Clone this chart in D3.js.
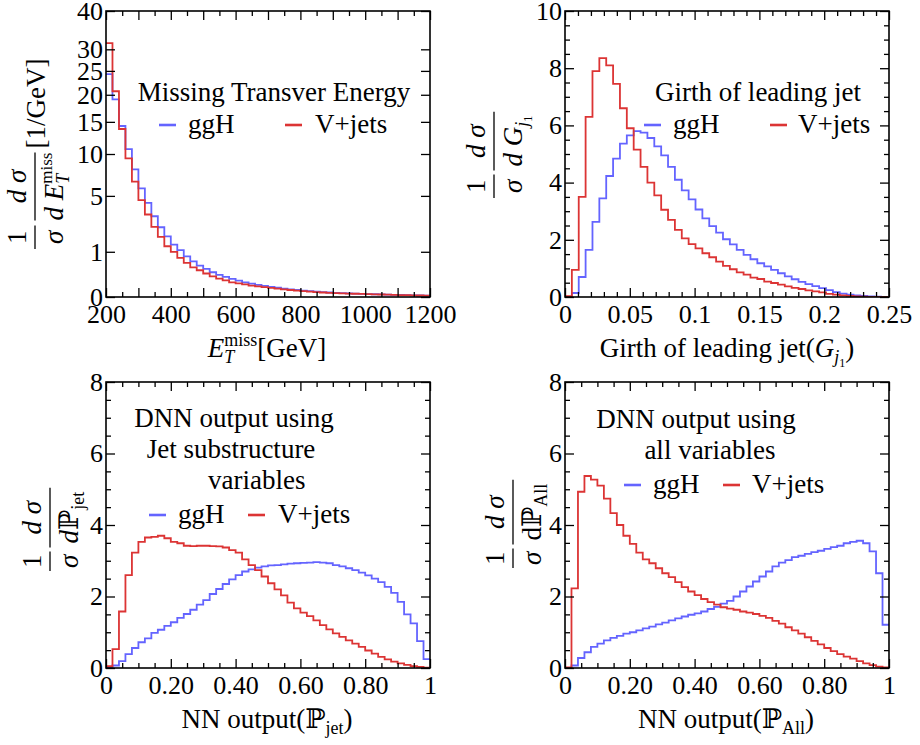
<!DOCTYPE html>
<html><head><meta charset="utf-8">
<script src="https://cdn.jsdelivr.net/npm/d3@7"></script>
<style>
body{margin:0;background:#fff}
svg{display:block}
text{font-family:"Liberation Serif","DejaVu Serif","Times New Roman",serif;fill:#000}
</style>
</head><body>
<svg id="chart" width="920" height="745"></svg>
<script>
// ---------------- DATA ----------------
const seriesNames = ["ggH", "V+jets"];

// Missing transverse energy (bins of 20 GeV starting at 200 GeV)
const metBinStart = 200, metBinWidth = 20;
const metGgH = [24.3,19.1,14.3,10.7,7.96,5.77,4.34,3.19,2.38,1.8,1.34,1.07,0.81,0.62,0.48,0.385,0.3,0.24,0.2,0.16,
  0.13,0.105,0.088,0.073,0.061,0.05,0.042,0.035,0.029,0.024,0.02,0.017,0.014,0.012,0.01,0.0087,0.0076,0.0066,0.0057,0.005,
  0.0043,0.0037,0.0032,0.0027,0.0023,0.002,0.0017,0.0014,0.0011,0.0009];
const metVjets = [31.5,20.7,13.8,9.4,6.5,4.58,3.33,2.41,1.77,1.26,1.0,0.75,0.57,0.43,0.35,0.27,0.21,0.165,0.135,0.105,
  0.09,0.077,0.064,0.055,0.047,0.04,0.034,0.029,0.024,0.02,0.017,0.014,0.012,0.01,0.0085,0.0075,0.0066,0.0058,0.0051,0.0045,
  0.004,0.0035,0.003,0.0026,0.0022,0.0019,0.0016,0.0013,0.0011,0.0009];
const metXTicks = [200,400,600,800,1000,1200];
const metXLabels = ["200","400","600","800","1000","1200"];
const metYTicks = [0,1,5,10,15,20,25,30,40];
const metYLabels = ["0","1","5","10","15","20","25","30","40"];

// Girth of leading jet
const girthBinStart = 0, girthBinWidth = 0.0053;
const girthGgH = [0,0.14,0.7,1.65,2.63,3.45,4.23,4.84,5.36,5.65,5.8,5.75,5.56,5.27,4.95,4.55,4.1,3.73,3.41,3.06,
  2.75,2.48,2.25,2.02,1.84,1.65,1.47,1.32,1.18,1.07,0.95,0.83,0.72,0.62,0.53,0.45,0.38,0.31,0.24,0.17,
  0.12,0.08,0.06,0.04,0.02,0.01,0];
const girthVjets = [0.03,0.95,3.5,6.3,7.9,8.35,8.1,7.45,6.6,5.9,5.15,4.55,4.0,3.55,3.05,2.7,2.35,2.05,1.85,1.7,
  1.53,1.39,1.24,1.09,0.97,0.86,0.78,0.68,0.63,0.54,0.49,0.43,0.37,0.32,0.28,0.23,0.2,0.16,0.11,0.08,
  0.06,0.04,0.02,0.01,0.005,0,0];
const girthXTicks = [0,0.05,0.1,0.15,0.2,0.25];
const girthXLabels = ["0","0.05","0.1","0.15","0.2","0.25"];
const girthYTicks = [0,2,4,6,8,10];
const girthYLabels = ["0","2","4","6","8","10"];

// DNN output, jet substructure variables (bins of 0.02)
const dnnBinStart = 0, dnnBinWidth = 0.02;
const dnnJetGgH = [0,0.07,0.19,0.39,0.56,0.72,0.83,0.98,1.07,1.18,1.28,1.4,1.51,1.63,1.77,1.9,2.07,2.21,2.35,2.48,
  2.6,2.7,2.76,2.81,2.84,2.87,2.88,2.9,2.92,2.93,2.94,2.95,2.96,2.95,2.93,2.88,2.84,2.79,2.74,2.67,
  2.59,2.5,2.4,2.27,2.1,1.85,1.5,1.25,0.75,0.25];
const dnnJetVjets = [0.05,0.53,1.58,2.6,3.23,3.53,3.65,3.67,3.7,3.63,3.53,3.49,3.42,3.41,3.42,3.42,3.41,3.4,3.37,3.3,
  3.23,3.04,2.88,2.74,2.56,2.37,2.2,2.03,1.83,1.67,1.55,1.45,1.33,1.2,1.08,0.97,0.87,0.77,0.68,0.59,
  0.49,0.4,0.31,0.24,0.18,0.13,0.09,0.05,0.03,0.01];

// DNN output, all variables
const dnnAllGgH = [0,0.07,0.28,0.44,0.59,0.68,0.77,0.84,0.9,0.96,1.0,1.05,1.11,1.16,1.22,1.27,1.33,1.39,1.44,1.49,
  1.53,1.58,1.65,1.71,1.8,1.88,2.0,2.14,2.28,2.42,2.56,2.7,2.84,2.95,3.02,3.1,3.14,3.19,3.24,3.28,
  3.33,3.38,3.42,3.49,3.53,3.56,3.49,3.26,2.65,1.21];
const dnnAllVjets = [0.02,2.23,4.93,5.37,5.27,5.1,4.74,4.33,4.0,3.7,3.47,3.23,3.04,2.93,2.79,2.65,2.54,2.4,2.26,2.14,
  2.04,1.93,1.84,1.77,1.7,1.66,1.63,1.58,1.55,1.51,1.46,1.4,1.32,1.24,1.14,1.05,0.96,0.86,0.76,0.66,
  0.56,0.47,0.39,0.32,0.26,0.19,0.13,0.08,0.04,0.015];
const dnnXTicks = [0,0.2,0.4,0.6,0.8,1];
const dnnXLabels = ["0","0.20","0.40","0.60","0.80","1"];
const dnnYTicks = [0,2,4,6,8];
const dnnYLabels = ["0","2","4","6","8"];

// ---------------- DRAWING ----------------
const BLUE = "#6464ff", RED = "#dc3434";
const svg = d3.select("#chart");
const FS_TICK = 26, FS_TEXT = 27;

function richText(parent, parts) {
  const g = parent.append("g");
  let cx = 0, prevStart = 0, prevW = 0;
  parts.forEach(p => {
    const startX = p.stack ? prevStart : cx;
    const t = g.append("text").attr("x", startX).attr("y", p.dy || 0)
      .attr("font-size", p.fs || FS_TEXT)
      .attr("font-style", p.it ? "italic" : "normal")
      .style("white-space", "pre")
      .text(p.t);
    const w = t.node().getComputedTextLength();
    if (p.stack) { cx = Math.max(prevStart + prevW, startX + w); prevW = Math.max(prevW, w); }
    else { prevStart = startX; prevW = w; cx = startX + w; }
  });
  return { g, width: cx };
}
function placeText(parent, x, y, parts, anchor) {
  const r = richText(parent, parts);
  const off = anchor === "middle" ? -r.width / 2 : anchor === "end" ? -r.width : 0;
  r.g.attr("transform", `translate(${x + off},${y})`);
  return r;
}

// rotated y-axis label made of fractions and text
function yLabel(px, pyStart, items) {
  const g = svg.append("g").attr("transform", `translate(${px},${pyStart}) rotate(-90)`);
  let u = 0;
  items.forEach(it => {
    if (it.gap) { u += it.gap; return; }
    if (it.num) {
      const n = richText(g, it.num), d = richText(g, it.den);
      const W = Math.max(n.width, d.width) + (it.pad == null ? 4 : it.pad);
      n.g.attr("transform", `translate(${u + (W - n.width) / 2},-9)`);
      d.g.attr("transform", `translate(${u + (W - d.width) / 2},28)`);
      g.append("line").attr("x1", u).attr("x2", u + W).attr("y1", 0).attr("y2", 0)
        .attr("stroke", "#000").attr("stroke-width", 1.3);
      u += W;
    } else {
      const r = richText(g, it.text);
      r.g.attr("transform", `translate(${u},${it.v})`);
      u += r.width;
    }
  });
}

let clipId = 0;
function panel(cfg) {
  const x = d3.scaleLinear().domain(cfg.xDomain).range([cfg.x0, cfg.x1]);
  const y = (cfg.sqrt ? d3.scaleSqrt() : d3.scaleLinear()).domain(cfg.yDomain).range([cfg.y1, cfg.y0]);
  const id = "clip" + (clipId++);
  svg.append("clipPath").attr("id", id).append("rect")
    .attr("x", cfg.x0).attr("y", cfg.y0 - 2).attr("width", cfg.x1 - cfg.x0).attr("height", cfg.y1 - cfg.y0 + 2);

  const line = d3.line().x(d => x(d[0])).y(d => y(d[1])).curve(d3.curveStepAfter);
  const plot = svg.append("g").attr("clip-path", `url(#${id})`);
  [[cfg.blue, BLUE], [cfg.red, RED]].forEach(([vals, col]) => {
    const pts = vals.map((v, i) => [cfg.binStart + i * cfg.binWidth, v]);
    pts.push([cfg.binStart + vals.length * cfg.binWidth, vals[vals.length - 1]]);
    plot.append("path").attr("d", line(pts)).attr("fill", "none")
      .attr("stroke", col).attr("stroke-width", 1.8).attr("stroke-linejoin", "miter");
  });

  const styleAxis = (g) => {
    g.select(".domain").remove();
    g.selectAll("line").attr("stroke", "#000").attr("stroke-width", 1.3);
    g.selectAll("text").attr("font-size", FS_TICK).attr("font-family", '"Liberation Serif","DejaVu Serif",serif').attr("fill", "#000");
    g.attr("font-family", null).attr("font-size", null);
  };
  const minorX = cfg.xMinor.filter(v => !cfg.xTicks.some(t => Math.abs(t - v) < 1e-9));
  const minorY = cfg.yMinor.filter(v => !cfg.yTicks.some(t => Math.abs(t - v) < 1e-9));
  const xMinLen = v => (cfg.xMid && cfg.xMid(v)) ? 9 : 5;
  [[cfg.y1, d3.axisBottom], [cfg.y0, d3.axisTop]].forEach(([yy, ax]) => {
    const mid = minorX.filter(v => xMinLen(v) === 9), sm = minorX.filter(v => xMinLen(v) === 5);
    if (mid.length) svg.append("g").attr("transform", `translate(0,${yy})`)
      .call(ax(x).tickValues(mid).tickFormat("").tickSize(-9)).call(styleAxis);
    if (sm.length) svg.append("g").attr("transform", `translate(0,${yy})`)
      .call(ax(x).tickValues(sm).tickFormat("").tickSize(-5)).call(styleAxis);
  });
  if (minorY.length) {
    [[cfg.x0, d3.axisLeft], [cfg.x1, d3.axisRight]].forEach(([xx, ax]) => {
      svg.append("g").attr("transform", `translate(${xx},0)`)
        .call(ax(y).tickValues(minorY).tickFormat("").tickSize(-5)).call(styleAxis);
    });
  }
  svg.append("g").attr("transform", `translate(0,${cfg.y1})`)
    .call(d3.axisBottom(x).tickValues(cfg.xTicks).tickFormat((d, i) => cfg.xLabels[i]).tickSize(-9).tickPadding(8))
    .call(styleAxis);
  svg.append("g").attr("transform", `translate(0,${cfg.y0})`)
    .call(d3.axisTop(x).tickValues(cfg.xTicks).tickFormat("").tickSize(-9)).call(styleAxis);
  svg.append("g").attr("transform", `translate(${cfg.x0},0)`)
    .call(d3.axisLeft(y).tickValues(cfg.yTicks).tickFormat((d, i) => cfg.yLabels[i]).tickSize(-9).tickPadding(3))
    .call(styleAxis);
  svg.append("g").attr("transform", `translate(${cfg.x1},0)`)
    .call(d3.axisRight(y).tickValues(cfg.yTicks).tickFormat("").tickSize(-9)).call(styleAxis);

  svg.append("rect").attr("x", cfg.x0).attr("y", cfg.y0).attr("width", cfg.x1 - cfg.x0).attr("height", cfg.y1 - cfg.y0)
    .attr("fill", "none").attr("stroke", "#000").attr("stroke-width", 1.6);

  cfg.title.forEach(t => {
    svg.append("text").attr("x", t.x).attr("y", t.y).attr("text-anchor", t.anchor || "middle")
      .attr("font-size", FS_TEXT).style("white-space", "pre").text(t.t);
  });
  const L = cfg.legend;
  [[BLUE, seriesNames[0], L.bx, L.bt], [RED, seriesNames[1], L.rx, L.rt]].forEach(([col, name, lx, tx]) => {
    svg.append("line").attr("x1", lx).attr("x2", lx + 17).attr("y1", L.ly).attr("y2", L.ly)
      .attr("stroke", col).attr("stroke-width", 2.6);
    svg.append("text").attr("x", tx).attr("y", L.ty).attr("font-size", FS_TEXT).text(name);
  });
}

const r = (a, b, s) => d3.range(a, b + s / 2, s).map(v => +v.toFixed(6));

panel({
  x0: 106, x1: 430, y0: 11, y1: 297, xDomain: [200, 1200], yDomain: [0, 40], sqrt: true,
  binStart: metBinStart, binWidth: metBinWidth, blue: metGgH, red: metVjets,
  xTicks: metXTicks, xLabels: metXLabels, yTicks: metYTicks, yLabels: metYLabels,
  xMinor: r(200, 1200, 50), xMid: v => v % 100 === 0, yMinor: [],
  title: [{ t: "Missing Transver Energy", x: 274, y: 101 }],
  legend: { ly: 125, ty: 133, bx: 159, bt: 188, rx: 285, rt: 315 }
});
panel({
  x0: 565, x1: 889, y0: 11, y1: 297, xDomain: [0, 0.25], yDomain: [0, 10],
  binStart: girthBinStart, binWidth: girthBinWidth, blue: girthGgH, red: girthVjets,
  xTicks: girthXTicks, xLabels: girthXLabels, yTicks: girthYTicks, yLabels: girthYLabels,
  xMinor: r(0, 0.25, 0.01), yMinor: r(0, 10, 0.5),
  title: [{ t: "Girth of leading jet", x: 758, y: 101 }],
  legend: { ly: 125, ty: 133, bx: 644, bt: 673, rx: 770, rt: 798 }
});
panel({
  x0: 106, x1: 430, y0: 382, y1: 668, xDomain: [0, 1], yDomain: [0, 8],
  binStart: dnnBinStart, binWidth: dnnBinWidth, blue: dnnJetGgH, red: dnnJetVjets,
  xTicks: dnnXTicks, xLabels: dnnXLabels, yTicks: dnnYTicks, yLabels: dnnYLabels,
  xMinor: r(0, 1, 0.05), yMinor: r(0, 8, 0.5),
  title: [{ t: "DNN output using", x: 234, y: 427 }, { t: "Jet substructure", x: 231, y: 458 },
          { t: "variables", x: 208, y: 489, anchor: "start" }],
  legend: { ly: 515, ty: 523, bx: 149, bt: 178, rx: 248, rt: 278 }
});
panel({
  x0: 565, x1: 889, y0: 382, y1: 668, xDomain: [0, 1], yDomain: [0, 8],
  binStart: dnnBinStart, binWidth: dnnBinWidth, blue: dnnAllGgH, red: dnnAllVjets,
  xTicks: dnnXTicks, xLabels: dnnXLabels, yTicks: dnnYTicks, yLabels: dnnYLabels,
  xMinor: r(0, 1, 0.05), yMinor: r(0, 8, 0.5),
  title: [{ t: "DNN output using", x: 696, y: 428 }, { t: "all variables", x: 710, y: 459 }],
  legend: { ly: 485, ty: 493, bx: 624, bt: 653, rx: 723, rt: 752 }
});

// x-axis labels
placeText(svg, 267, 357, [{ t: "E", it: true }, { t: "miss", fs: 18, dy: -11 }, { t: "T", it: true, fs: 18, dy: 6, stack: true }, { t: "[GeV]" }], "middle");
placeText(svg, 727, 357, [{ t: "Girth of leading jet(" }, { t: "G", it: true }, { t: "j", it: true, fs: 18, dy: 6 }, { t: "1", fs: 12, dy: 10 }, { t: ")" }], "middle");
placeText(svg, 267, 728, [{ t: "NN output(" }, { t: "ℙ" }, { t: "jet", fs: 18, dy: 6 }, { t: ")" }], "middle");
placeText(svg, 726, 728, [{ t: "NN output(" }, { t: "ℙ" }, { t: "All", fs: 18, dy: 6 }, { t: ")" }], "middle");

// y-axis labels: (1/σ)(dσ/dX)
const numDS = [{ t: "d", it: true }, { t: " σ", it: true }];
yLabel(35, 249, [
  { num: [{ t: "1" }], den: [{ t: "σ", it: true }], pad: 10 }, { gap: 5 },
  { num: numDS, den: [{ t: "d E", it: true }, { t: "miss", fs: 17, dy: -11 }, { t: "T", it: true, fs: 18, dy: 6, stack: true }], pad: 0 },
  { gap: 4 }, { text: [{ t: "[1/GeV]" }], v: 10 }
]);
yLabel(494, 198, [
  { num: [{ t: "1" }], den: [{ t: "σ", it: true }], pad: 10 }, { gap: 4 },
  { num: numDS, den: [{ t: "d G", it: true }, { t: "j", it: true, fs: 18, dy: 6 }, { t: "1", fs: 12, dy: 10 }], pad: 8 }
]);
yLabel(50, 571, [
  { num: [{ t: "1" }], den: [{ t: "σ", it: true }], pad: 6 }, { gap: 4 },
  { num: numDS, den: [{ t: "d", it: true }, { t: "ℙ" }, { t: "jet", fs: 18, dy: 6 }], pad: 8 }
]);
yLabel(513, 568, [
  { num: [{ t: "1" }], den: [{ t: "σ", it: true }], pad: 6 }, { gap: 4 },
  { num: numDS, den: [{ t: "dℙ" }, { t: "All", fs: 18, dy: 6 }], pad: 8 }
]);
</script>
</body></html>
